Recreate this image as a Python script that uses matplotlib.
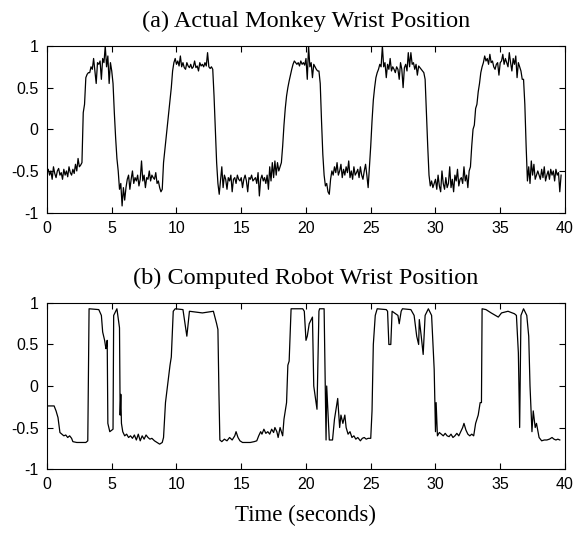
import numpy as np
import matplotlib.pyplot as plt

# (a) actual monkey wrist position, sampled every 0.1 s from t = 0
monkey_step = 0.1
monkey_pos = [
    -0.52, -0.48, -0.55, -0.50, -0.60, -0.45, -0.53, -0.58, -0.50, -0.47,
    -0.55, -0.52, -0.60, -0.48, -0.55, -0.50, -0.57, -0.45, -0.52, -0.55,
    -0.48, -0.53, -0.42, -0.50, -0.35, -0.45, -0.43, -0.40, 0.20, 0.30,
    0.62, 0.66, 0.68, 0.68, 0.75, 0.72, 0.85, 0.70, 0.55, 0.80,
    0.78, 0.82, 0.60, 0.85, 0.80, 1.00, 0.75, 0.88, 0.55, 0.80,
    0.70, 0.55, 0.20, -0.10, -0.35, -0.50, -0.72, -0.65, -0.92, -0.70,
    -0.85, -0.70, -0.60, -0.55, -0.72, -0.60, -0.50, -0.65, -0.58, -0.62,
    -0.55, -0.68, -0.60, -0.38, -0.62, -0.55, -0.70, -0.58, -0.60, -0.50,
    -0.62, -0.55, -0.58, -0.60, -0.52, -0.65, -0.62, -0.70, -0.75, -0.72,
    -0.40, -0.25, -0.10, 0.05, 0.20, 0.35, 0.50, 0.70, 0.80, 0.85,
    0.78, 0.82, 0.76, 0.88, 0.75, 0.80, 0.74, 0.72, 0.80, 0.76,
    0.74, 0.78, 0.73, 0.75, 0.82, 0.74, 0.76, 0.70, 0.80, 0.76,
    0.78, 0.75, 0.80, 0.76, 0.92, 0.75, 0.73, 0.75, 0.72, 0.40,
    0.00, -0.40, -0.65, -0.78, -0.62, -0.45, -0.70, -0.55, -0.60, -0.72,
    -0.58, -0.62, -0.55, -0.75, -0.60, -0.58, -0.65, -0.55, -0.60, -0.62,
    -0.58, -0.70, -0.60, -0.55, -0.62, -0.75, -0.58, -0.60, -0.55, -0.62,
    -0.60, -0.58, -0.65, -0.52, -0.80, -0.60, -0.55, -0.62, -0.58, -0.65,
    -0.55, -0.72, -0.45, -0.62, -0.40, -0.58, -0.38, -0.55, -0.40, -0.50,
    -0.45, -0.40, -0.20, 0.05, 0.25, 0.40, 0.50, 0.58, 0.65, 0.72,
    0.78, 0.82, 0.80, 0.78, 0.80, 0.76, 0.82, 0.78, 0.80, 0.77,
    0.85, 0.60, 1.00, 0.75, 0.80, 0.62, 0.78, 0.75, 0.72, 0.70,
    0.70, 0.55, 0.10, -0.30, -0.55, -0.68, -0.65, -0.75, -0.78, -0.60,
    -0.50, -0.55, -0.45, -0.52, -0.40, -0.55, -0.50, -0.42, -0.58, -0.48,
    -0.55, -0.45, -0.52, -0.38, -0.58, -0.50, -0.60, -0.45, -0.55, -0.52,
    -0.48, -0.58, -0.45, -0.55, -0.60, -0.50, -0.42, -0.55, -0.70, -0.45,
    -0.20, 0.10, 0.35, 0.50, 0.62, 0.68, 0.72, 0.78, 0.75, 1.00,
    0.75, 0.80, 0.62, 0.78, 0.72, 0.85, 0.70, 0.75, 0.72, 0.68,
    0.75, 0.72, 0.60, 0.80, 0.72, 0.50, 0.74, 0.78, 0.70, 0.92,
    0.75, 0.92, 0.78, 0.80, 0.72, 0.78, 0.65, 0.76, 0.74, 0.72,
    0.70, 0.68, 0.60, 0.20, -0.20, -0.55, -0.68, -0.62, -0.70, -0.65,
    -0.60, -0.72, -0.55, -0.68, -0.75, -0.50, -0.65, -0.72, -0.58, -0.70,
    -0.65, -0.45, -0.70, -0.60, -0.75, -0.55, -0.62, -0.48, -0.68, -0.60,
    -0.58, -0.65, -0.45, -0.62, -0.55, -0.70, -0.50, -0.45, -0.20, 0.00,
    0.05, 0.25, 0.30, 0.45, 0.55, 0.68, 0.75, 0.80, 0.88, 0.82,
    0.85, 0.78, 0.90, 0.80, 0.82, 0.75, 0.72, 0.78, 0.80, 0.65,
    0.80, 0.82, 0.90, 0.78, 0.85, 0.80, 0.75, 0.92, 0.80, 0.70,
    0.85, 0.78, 0.88, 0.62, 0.80, 0.75, 0.70, 0.60, 0.60, 0.30,
    -0.20, -0.62, -0.45, -0.65, -0.38, -0.55, -0.42, -0.60, -0.55, -0.50,
    -0.55, -0.60, -0.48, -0.58, -0.45, -0.62, -0.55, -0.50, -0.60, -0.48,
    -0.55, -0.50, -0.62, -0.48, -0.55, -0.52, -0.75, -0.55,
]

# (b) computed robot wrist position, read at the corners of the trace
robot_t = [
    # 0 - 5.8 s
    0.0, 0.55, 0.7, 0.85, 1.0, 1.15, 1.3, 1.45, 1.6, 1.75, 1.9, 2.0, 2.3,
    3.0, 3.15, 3.25, 4.0, 4.2, 4.3, 4.45, 4.55, 4.6, 4.65, 4.7, 4.85, 5.1,
    5.15, 5.4, 5.6, 5.65, 5.7, 5.75,
    # 5.8 - 13.3 s
    5.85, 6.0, 6.15, 6.3, 6.45, 6.6, 6.75, 6.9, 7.05, 7.2, 7.35, 7.5, 7.65,
    7.8, 7.95, 8.1, 8.3, 8.5, 8.7, 8.9, 9.0, 9.1, 9.15, 9.5, 9.6, 9.75, 9.9,
    10.5, 10.8, 11.0, 12.0, 12.85, 13.1, 13.2, 13.28,
    # 13.3 - 18.9 s
    13.35, 13.5, 13.7, 13.9, 14.1, 14.3, 14.5, 14.6, 14.75, 14.9, 15.1, 15.4,
    15.7, 16.0, 16.2, 16.35, 16.5, 16.6, 16.75, 16.9, 17.05, 17.2, 17.35,
    17.5, 17.6, 17.75, 17.85, 18.0, 18.2, 18.3, 18.5, 18.6, 18.7, 18.85,
    # 19.7 - 22.6 s
    19.75, 19.87, 20.0, 20.1, 20.25, 20.5, 20.6, 20.85, 21.0, 21.05, 21.4,
    21.55, 21.6, 21.8, 22.05, 22.2, 22.3, 22.45, 22.6,
    # 22.7 - 25.5 s
    22.7, 22.85, 23.0, 23.1, 23.25, 23.4, 23.55, 23.7, 23.85, 24.0, 24.2,
    24.35, 24.5, 24.65, 24.8, 25.0, 25.1, 25.2, 25.35, 25.5,
    # 26.2 - 30.1 s
    26.2, 26.3, 26.4, 26.55, 26.65, 27.1, 27.2, 27.35, 27.45, 28.1, 28.35,
    28.55, 28.7, 28.75, 28.9, 29.05, 29.2, 29.45, 29.7, 29.9, 30.0, 30.05,
    # 30.1 - 33.6 s
    30.15, 30.3, 30.45, 30.6, 30.75, 30.9, 31.05, 31.2, 31.35, 31.5, 31.65,
    31.8, 31.95, 32.1, 32.2, 32.35, 32.5, 32.65, 32.8, 32.95, 33.1, 33.3,
    33.45, 33.55, 33.6,
    # 33.9 - 39.6 s
    33.9, 34.3, 34.85, 35.1, 35.6, 36.1, 36.25, 36.4, 36.5, 36.6, 36.8,
    37.05, 37.2, 37.3, 37.45, 37.55, 37.7, 37.8, 38.0, 38.2, 38.4, 38.6,
    38.8, 39.0, 39.15, 39.3, 39.45, 39.6,
]
robot_pos = [
    -0.24, -0.24, -0.30, -0.38, -0.56, -0.58, -0.60, -0.59, -0.62, -0.60,
    -0.63, -0.67, -0.68, -0.68, -0.66, 0.93, 0.92, 0.85, 0.65, 0.55, 0.45,
    0.48, 0.55, -0.45, -0.55, -0.52, 0.85, 0.93, 0.70, -0.35, -0.10, -0.45,
    -0.55, -0.60, -0.58, -0.62, -0.60, -0.63, -0.59, -0.65, -0.58, -0.66,
    -0.60, -0.64, -0.59, -0.62, -0.64, -0.63, -0.66, -0.68, -0.70, -0.68,
    -0.62, -0.35, -0.20, 0.25, 0.35, 0.90, 0.93, 0.92, 0.60, 0.90, 0.88,
    0.90, 0.75, 0.68, -0.10,
    -0.65, -0.67, -0.64, -0.66, -0.62, -0.65, -0.60, -0.55, -0.62, -0.66,
    -0.68, -0.68, -0.68, -0.67, -0.66, -0.60, -0.55, -0.58, -0.52, -0.57,
    -0.55, -0.58, -0.52, -0.56, -0.50, -0.55, -0.62, -0.50, -0.60, -0.40,
    -0.20, 0.25, 0.30, 0.93,
    0.93, 0.90, 0.55, 0.60, 0.75, 0.83, 0.00, -0.28, 0.90, 0.93, 0.93,
    -0.65, 0.00, -0.65, -0.65, -0.40, -0.30, -0.15, -0.50,
    -0.35, -0.45, -0.35, -0.50, -0.58, -0.55, -0.62, -0.60, -0.64, -0.62,
    -0.66, -0.63, -0.62, -0.64, -0.63, -0.63, -0.30, 0.50, 0.85, 0.93,
    0.92, 0.90, 0.50, 0.50, 0.90, 0.85, 0.75, 0.90, 0.93, 0.92, 0.85,
    0.60, 0.50, 0.80, 0.60, 0.38, 0.85, 0.93, 0.85, 0.20, -0.55, -0.20,
    -0.60, -0.56, -0.58, -0.60, -0.57, -0.60, -0.61, -0.58, -0.62, -0.60,
    -0.57, -0.60, -0.55, -0.50, -0.45, -0.53, -0.58, -0.60, -0.58, -0.60,
    -0.45, -0.35, -0.20, -0.20, 0.93,
    0.92, 0.88, 0.83, 0.88, 0.90, 0.87, 0.85, 0.40, -0.50, 0.85, 0.93,
    0.85, 0.60, 0.00, -0.55, -0.30, -0.50, -0.45, -0.62, -0.66, -0.65,
    -0.65, -0.64, -0.62, -0.64, -0.65, -0.64, -0.65,
]

titles = ["(a) Actual Monkey Wrist Position", "(b) Computed Robot Wrist Position"]
xticks = [0, 5, 10, 15, 20, 25, 30, 35, 40]
yticks = [-1, -0.5, 0, 0.5, 1]
ytick_labels = ["-1", "-0.5", "0", "0.5", "1"]

monkey_t = np.arange(len(monkey_pos)) * monkey_step

fig = plt.figure(figsize=(5.73, 5.41), dpi=100)
ax_a = fig.add_axes([0.082, 0.607, 0.904, 0.308])
ax_b = fig.add_axes([0.082, 0.133, 0.904, 0.307])

for ax, t, y, title in [(ax_a, monkey_t, monkey_pos, titles[0]),
                        (ax_b, robot_t, robot_pos, titles[1])]:
    ax.plot(t, y, color="black", linewidth=0.9)
    ax.set_xlim(0, 40)
    ax.set_ylim(-1, 1)
    ax.set_xticks(xticks)
    ax.set_yticks(yticks)
    ax.set_yticklabels(ytick_labels)
    ax.tick_params(direction="in", top=True, right=True, length=4,
                   labelsize=11.5, pad=6)
    for lab in ax.get_xticklabels() + ax.get_yticklabels():
        lab.set_family("Liberation Sans")
    ax.set_title(title, family="Liberation Serif", fontsize=17.5, pad=14)

fig.text(0.533, 0.048, "Time (seconds)", family="Liberation Serif",
         fontsize=16.5, ha="center", va="center")

fig.savefig("out.png", dpi=100)
